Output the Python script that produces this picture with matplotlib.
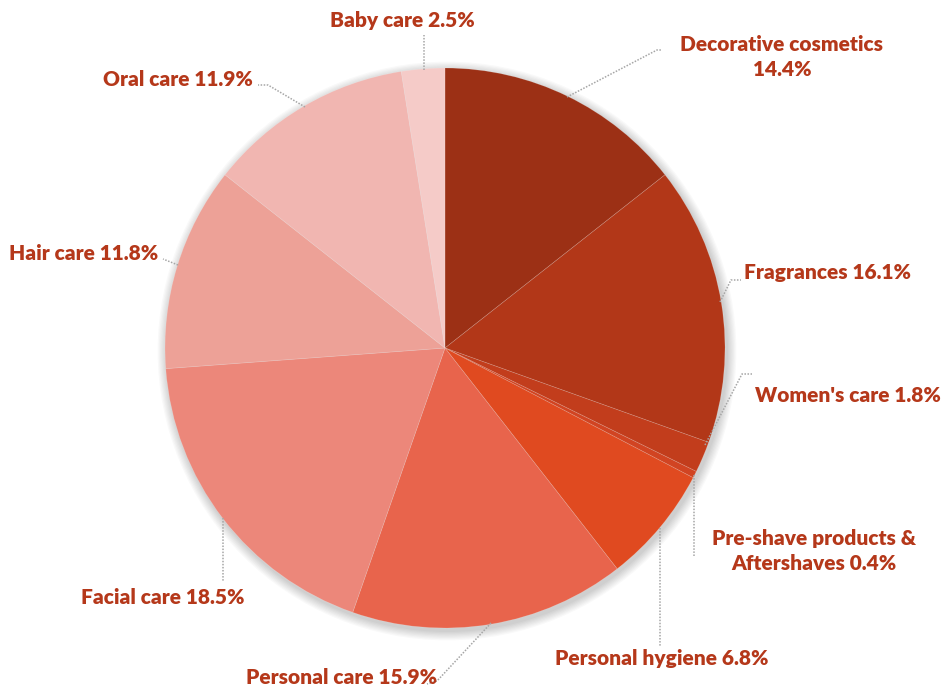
import numpy as np
import matplotlib.pyplot as plt
from matplotlib.patches import Circle

plt.rcParams['font.family'] = ['Lato', 'DejaVu Sans']

labels = ["Decorative cosmetics\n14.4%", "Fragrances 16.1%", "Women's care 1.8%",
          "Pre-shave products &\nAftershaves 0.4%", "Personal hygiene 6.8%",
          "Personal care 15.9%", "Facial care 18.5%", "Hair care 11.8%",
          "Oral care 11.9%", "Baby care 2.5%"]
shares = [14.4, 16.1, 1.8, 0.4, 6.8, 15.9, 18.5, 11.8, 11.9, 2.5]
colors = ["#9c3015", "#b23718", "#c23d1c", "#d14422", "#e04a20",
          "#e8644c", "#ec877a", "#eda197", "#f1b6b1", "#f5cbc8"]

# label centres and leader paths, in pixel coords (y down)
label_xy = [(782, 57), (827, 273), (848, 396), (814, 551), (662, 659),
            (342, 678), (163, 598), (84, 254), (178, 79), (402, 21)]
leaders = [
    [(567, 97), (657, 50), (662, 50)],
    [(720, 302), (731, 280), (741, 280)],
    [(705, 445), (742, 374), (752, 374)],
    [(694, 475), (694, 556)],
    [(660, 528), (660, 647)],
    [(491, 623), (437, 681), (427, 684)],
    [(223, 518), (223, 582)],
    [(178, 265), (163, 259)],
    [(305, 107), (268, 85), (258, 85)],
    [(424, 70), (424, 35)],
]

W, H = 942, 689
cx, cy, r = 445, H - 348, 280

fig = plt.figure(figsize=(W / 100, H / 100), dpi=100)
ax = fig.add_axes([0, 0, 1, 1])

# soft shadow
for i in range(8):
    ax.add_patch(Circle((cx + 2, cy - 3), r + 1 + i * 1.2, color='#000000',
                        alpha=0.025, lw=0, zorder=0))

ax.pie(shares, colors=colors, startangle=90, counterclock=False,
       center=(cx, cy), radius=r, frame=True,
       wedgeprops=dict(edgecolor=(1, 1, 1, 0.2), linewidth=0.5))
ax.set_xlim(0, W)
ax.set_ylim(0, H)
ax.set_aspect('equal')
ax.axis('off')

for path in leaders:
    xs = [p[0] for p in path]
    ys = [H - p[1] for p in path]
    ax.plot(xs, ys, color='#a6a6a6', lw=1.1, ls=(0, (1, 1)), zorder=3)

for lab, (x, y) in zip(labels, label_xy):
    ax.text(x, H - y, lab, ha='center', va='center', fontsize=15,
            fontweight='heavy', color='#b5381a', linespacing=1.4, zorder=4)

fig.savefig('out.png', dpi=100)
